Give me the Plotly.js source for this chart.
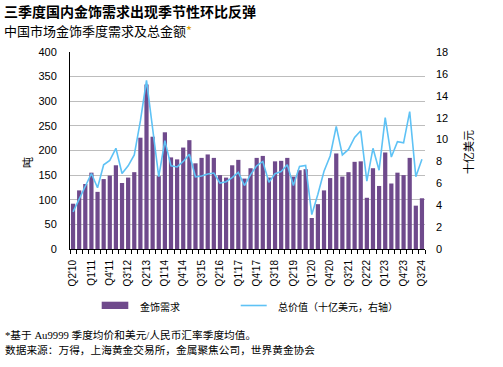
<!DOCTYPE html>
<html><head><meta charset="utf-8">
<script src="https://cdn.plot.ly/plotly-3.0.1.min.js"></script>
<style>html,body{margin:0;padding:0;background:#fff}</style>
</head><body><div id="chart" style="width:503px;height:367px"></div>
<script>
const quarters = ["Q2'10","Q3'10","Q4'10",
 "Q1'11","Q2'11","Q3'11","Q4'11","Q1'12","Q2'12","Q3'12","Q4'12",
 "Q1'13","Q2'13","Q3'13","Q4'13","Q1'14","Q2'14","Q3'14","Q4'14",
 "Q1'15","Q2'15","Q3'15","Q4'15","Q1'16","Q2'16","Q3'16","Q4'16",
 "Q1'17","Q2'17","Q3'17","Q4'17","Q1'18","Q2'18","Q3'18","Q4'18",
 "Q1'19","Q2'19","Q3'19","Q4'19","Q1'20","Q2'20","Q3'20","Q4'20",
 "Q1'21","Q2'21","Q3'21","Q4'21","Q1'22","Q2'22","Q3'22","Q4'22",
 "Q1'23","Q2'23","Q3'23","Q4'23","Q1'24","Q2'24","Q3'24"];
// 金饰需求（吨）
const demandTonnes = [92,119,132,
 155,116,142,149,170,134,145,156,
 226,334,228,148,237,186,182,206,
 221,174,185,192,185,150,145,170,
 181,143,164,185,189,145,178,179,
 185,147,160,162,63,91,119,144,
 194,147,156,177,178,104,164,128,
 196,133,155,150,185,88,103];
// 总价值（十亿美元，右轴）
const totalValueUSDbn = [3.4,4.6,5.8,
 6.9,5.6,7.7,8.1,9.2,6.9,7.6,8.6,
 11.7,15.4,11.0,6.6,9.9,7.6,7.5,8.0,
 8.65,6.6,6.67,6.85,6.94,6.03,6.15,6.52,
 7.0,5.8,6.8,7.6,8.0,6.1,6.88,7.07,
 7.7,5.8,7.55,7.64,3.14,5.0,7.1,8.5,
 11.2,8.6,9.1,10.2,10.8,6.2,9.2,7.2,
 12.0,8.4,9.8,9.7,12.55,6.6,8.2];
const tickLabels = ["Q2'10","Q1'11","Q4'11","Q3'12","Q2'13","Q1'14","Q4'14","Q3'15","Q2'16","Q1'17",
 "Q4'17","Q3'18","Q2'19","Q1'20","Q4'20","Q3'21","Q2'22","Q1'23","Q4'23","Q3'24"];
const leftTicks = [0,50,100,150,200,250,300,350,400];
const rightTicks = [0,2,4,6,8,10,12,14,16,18];

const idx = quarters.map((q,i)=>i);
const tickPos = tickLabels.map(t=>quarters.indexOf(t));

const PURPLE = '#6f4a8c', BLUE = '#5ec2f5';
const CJK = '"Noto Sans CJK SC", sans-serif';
const SANS = '"Liberation Sans", Arial, "Noto Sans CJK SC", sans-serif';
const SERIF = '"Liberation Serif", "Noto Sans CJK SC", serif';

const traces = [
 {type:'bar', x:idx, y:demandTonnes, name:'金饰需求', marker:{color:PURPLE}, yaxis:'y', hoverinfo:'skip'},
 {type:'scatter', mode:'lines', x:idx, y:totalValueUSDbn, name:'总价值（十亿美元，右轴）', line:{color:BLUE, width:1.6}, yaxis:'y2', hoverinfo:'skip'}
];

// helpers: pixel -> paper (plot area 70..425 x, 52..249 y)
const PX = p => (p-70)/355, PY = p => (249-p)/197;

const layout = {
 width:503, height:367,
 margin:{l:70, r:78, t:52, b:118},
 paper_bgcolor:'#fff', plot_bgcolor:'#fff',
 font:{family:SANS, size:11, color:'#000'},
 showlegend:false,
 bargap:0.31,
 xaxis:{type:'linear', range:[-0.5, quarters.length-0.5], tickvals:tickPos, ticktext:tickLabels,
   tickangle:-90, ticks:'', showgrid:false, zeroline:false, showline:true, linecolor:'#000', linewidth:1,
   tickfont:{size:10, family:SANS}, ticklabelstandoff:6,
   minor:{ticks:'outside', ticklen:4, tickcolor:'#000', tickwidth:1, tick0:-0.5, dtick:1, showgrid:false}},
 yaxis:{range:[0,400], tickvals:leftTicks, ticks:'', showline:true, linecolor:'#000', linewidth:1,
   showgrid:true, gridcolor:'#bdbdbd', gridwidth:1, zeroline:false, tickfont:{size:11}, ticklabelstandoff:10},
 yaxis2:{range:[0,18], tickvals:rightTicks, overlaying:'y', side:'right', ticks:'', showline:false,
   showgrid:false, zeroline:false, tickfont:{size:11}, ticklabelstandoff:10},
 shapes:[
  {type:'rect', xref:'paper', yref:'paper', x0:PX(101.7), x1:PX(128.3), y0:PY(309), y1:PY(301.7), fillcolor:PURPLE, line:{width:0}},
  {type:'line', xref:'paper', yref:'paper', x0:PX(240.7), x1:PX(266.7), y0:PY(305.5), y1:PY(305.5), line:{color:BLUE, width:1.6}}
 ],
 annotations:[
  {xref:'paper', yref:'paper', x:PX(3), y:PY(11), xanchor:'left', yanchor:'middle', showarrow:false, borderpad:0,
   text:'<b>三季度国内金饰需求出现季节性环比反弹</b>', font:{family:CJK, size:14, color:'#000'}},
  {xref:'paper', yref:'paper', x:PX(3), y:PY(30.5), xanchor:'left', yanchor:'middle', showarrow:false, borderpad:0,
   text:'中国市场金饰季度需求及总金额<span style="color:#e0a000">*</span>', font:{family:CJK, size:13, color:'#000'}},
  {xref:'paper', yref:'paper', x:PX(27), y:PY(163), xanchor:'center', yanchor:'middle', showarrow:false,
   textangle:-90, text:'吨', font:{family:CJK, size:11}},
  {xref:'paper', yref:'paper', x:PX(468), y:PY(152), xanchor:'center', yanchor:'middle', showarrow:false,
   textangle:-90, text:'十亿美元', font:{family:CJK, size:11}},
  {xref:'paper', yref:'paper', x:PX(138), y:PY(306), xanchor:'left', yanchor:'middle', showarrow:false,
   text:'金饰需求', font:{family:CJK, size:10}},
  {xref:'paper', yref:'paper', x:PX(276), y:PY(306), xanchor:'left', yanchor:'middle', showarrow:false,
   text:'总价值（十亿美元，右轴）', font:{family:CJK, size:10}},
  {xref:'paper', yref:'paper', x:PX(3), y:PY(335), xanchor:'left', yanchor:'middle', showarrow:false,
   text:'*基于 Au9999 季度均价和美元/人民币汇率季度均值。', font:{family:SERIF, size:10.7}},
  {xref:'paper', yref:'paper', x:PX(3), y:PY(349.5), xanchor:'left', yanchor:'middle', showarrow:false,
   text:'数据来源：万得，上海黄金交易所，金属聚焦公司，世界黄金协会', font:{family:SERIF, size:10.7}}
 ]
};
Plotly.newPlot('chart', traces, layout, {staticPlot:true, displayModeBar:false});
</script></body></html>
